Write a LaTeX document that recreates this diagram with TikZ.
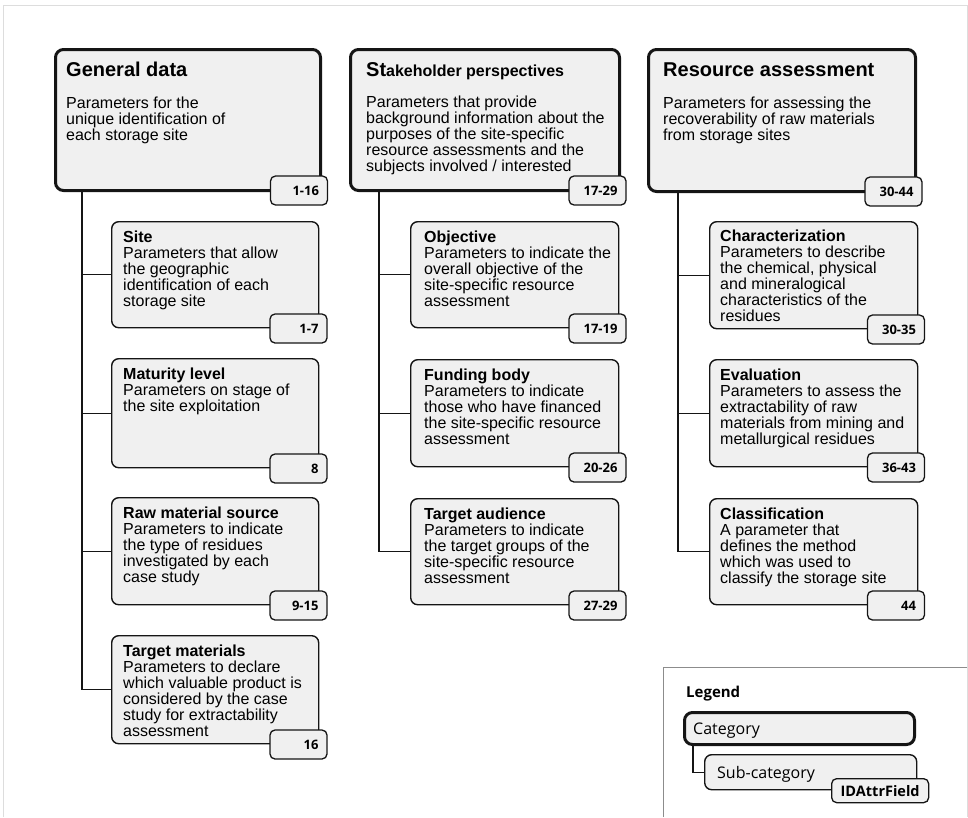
\documentclass[tikz,border=0pt]{standalone}
\usepackage{fontspec}
\setmainfont{Liberation Sans}
\newfontfamily\badgefont{Open Sans}
\usetikzlibrary{backgrounds}
\definecolor{boxfill}{HTML}{F0F0F0}
\definecolor{framegray}{HTML}{DDDDDD}
\definecolor{leggray}{HTML}{8C8C8C}
\definecolor{linecol}{HTML}{151515}
\newcommand\boxlines[1]{\parbox[t]{240pt}{\raggedright\fontsize{16}{16}\selectfont #1}}
\begin{document}
\begin{tikzpicture}[x=1pt,y=-1pt,
  catbox/.style={draw=linecol, line width=3pt, rounded corners=8pt, fill=boxfill, inner sep=0pt, anchor=north west},
  subbox/.style={draw=linecol, line width=1.4pt, rounded corners=7pt, fill=boxfill, inner sep=0pt, anchor=north west},
  badge/.style={draw=linecol, line width=1.3pt, rounded corners=5pt, fill=boxfill, minimum height=29pt, text width=40pt, inner xsep=8.5pt, inner ysep=0pt, align=right, font=\badgefont\bfseries\fontsize{13}{13}\selectfont, anchor=center},
  legbadge/.style={draw=linecol, line width=1.3pt, rounded corners=5pt, fill=boxfill, minimum height=24pt, minimum width=97pt, inner xsep=2.5pt, inner ysep=0pt, font=\badgefont\bfseries\fontsize{14.5}{14.5}\selectfont, anchor=north west, text depth=0pt},
  txt/.style={anchor=base west, inner sep=0pt},
  cattitle/.style={txt, font=\bfseries\fontsize{20}{20}\selectfont},
  legtxt/.style={txt, font=\badgefont\fontsize{16}{16}\selectfont},
  conn/.style={draw=linecol, line width=1.4pt},
]
\useasboundingbox (0,0) rectangle (968,817);
% outer frame and legend frame
\draw[framegray, line width=0.8pt] (3,817) -- (3,5) -- (967,5) -- (967,817);
\draw[leggray, line width=0.8pt] (663,817) -- (663,667) -- (967,667);

% ---------- General data column ----------
\node[catbox, minimum width=265pt, minimum height=141pt] (gd) at (54,48) {};
\node[cattitle] (gdt) at (66,76) {General data};
\node[txt] (gdx) at (66,108) {\boxlines{Parameters for the\\unique identification of\\each storage site}};
\node[badge] (gdb) at (299,190.5) {1-16};

\node[subbox, minimum width=207pt, minimum height=106pt] (site) at (111,221) {};
\node[txt] (sitet) at (123,242) {\boxlines{\textbf{Site}\\Parameters that allow\\the geographic\\identification of each\\storage site}};
\node[badge] (siteb) at (298.5,328.5) {1-7};

\node[subbox, minimum width=207pt, minimum height=109pt] (ml) at (111,358) {};
\node[txt] (mlt) at (123,379) {\boxlines{\textbf{Maturity level}\\Parameters on stage of\\the site exploitation}};
\node[badge] (mlb) at (298.5,468.5) {8};

\node[subbox, minimum width=207pt, minimum height=107pt] (rms) at (111,497) {};
\node[txt] (rmst) at (123,518) {\boxlines{\textbf{Raw material source}\\Parameters to indicate\\the type of residues\\investigated by each\\case study}};
\node[badge] (rmsb) at (298.5,605.5) {9-15};

\node[subbox, minimum width=207pt, minimum height=108pt] (tm) at (111,635) {};
\node[txt] (tmt) at (123,656) {\boxlines{\textbf{Target materials}\\Parameters to declare\\which valuable product is\\considered by the case\\study for extractability\\assessment}};
\node[badge] (tmb) at (298.5,744.5) {16};

% ---------- Stakeholder column ----------
\node[catbox, minimum width=269pt, minimum height=141pt] (sp) at (349,48) {};
\node[txt, font=\bfseries\fontsize{16}{16}\selectfont] (spt) at (366,76) {{\fontsize{20}{20}\selectfont St}akeholder perspectives};
\node[txt] (spx) at (366,107) {\boxlines{Parameters that provide\\background information about the\\purposes of the site-specific\\resource assessments and the\\subjects involved / interested}};
\node[badge] (spb) at (597.5,190.5) {17-29};

\node[subbox, minimum width=208pt, minimum height=106pt] (obj) at (410,221) {};
\node[txt] (objt) at (424,242) {\boxlines{\textbf{Objective}\\Parameters to indicate the\\overall objective of the\\site-specific resource\\assessment}};
\node[badge] (objb) at (597.5,328.5) {17-19};

\node[subbox, minimum width=208pt, minimum height=107pt] (fb) at (410,359) {};
\node[txt] (fbt) at (424,380) {\boxlines{\textbf{Funding body}\\Parameters to indicate\\those who have financed\\the site-specific resource\\assessment}};
\node[badge] (fbb) at (597.5,467.5) {20-26};

\node[subbox, minimum width=208pt, minimum height=106pt] (ta) at (410,498) {};
\node[txt] (tat) at (424,519) {\boxlines{\textbf{Target audience}\\Parameters to indicate\\the target groups of the\\site-specific resource\\assessment}};
\node[badge] (tab) at (597.5,605.5) {27-29};

% ---------- Resource assessment column ----------
\node[catbox, minimum width=267pt, minimum height=142pt] (ra) at (647,48) {};
\node[cattitle] (rat) at (663,76) {Resource assessment};
\node[txt] (rax) at (663,108) {\boxlines{Parameters for assessing the\\recoverability of raw materials\\from storage sites}};
\node[badge] (rab) at (893.5,191.5) {30-44};

\node[subbox, minimum width=208pt, minimum height=107pt] (chr) at (709,221) {};
\node[txt] (chrt) at (720,241) {\boxlines{\textbf{Characterization}\\Parameters to describe\\the chemical, physical\\and mineralogical\\characteristics of the\\residues}};
\node[badge] (chrb) at (896,329.5) {30-35};

\node[subbox, minimum width=208pt, minimum height=107pt] (ev) at (709,359) {};
\node[txt] (evt) at (720,380) {\boxlines{\textbf{Evaluation}\\Parameters to assess the\\extractability of raw\\materials from mining and\\metallurgical residues}};
\node[badge] (evb) at (896,467.5) {36-43};

\node[subbox, minimum width=208pt, minimum height=106pt] (cl) at (709,498) {};
\node[txt] (clt) at (720,519) {\boxlines{\textbf{Classification}\\A parameter that\\defines the method\\which was used to\\classify the storage site}};
\node[badge] (clb) at (896,605.5) {44};

% ---------- Legend ----------
\node[txt, font=\badgefont\bfseries\fontsize{15}{15}\selectfont] (legt) at (686,697) {Legend};
\node[catbox, minimum width=230pt, minimum height=32pt] (lcat) at (683,711) {};
\node[legtxt] (lcatt) at (693,734) {Category};
\node[subbox, minimum width=212pt, minimum height=35pt] (lsub) at (704,754) {};
\node[legtxt] (lsubt) at (717,778) {Sub-category};
\node[legbadge] (lbad) at (831,778) {IDAttrField};

% ---------- connectors ----------
\coordinate (gdtop) at (82,189);
\coordinate (sptop) at (379,189);
\coordinate (ratop) at (678,190);
\coordinate (legtop) at (693,743);
\begin{scope}[on background layer]
\draw[conn] (gdtop) |- (tm.west);
\draw[conn] (gdtop |- site.west) -- (site.west);
\draw[conn] (gdtop |- ml.west) -- (ml.west);
\draw[conn] (gdtop |- rms.west) -- (rms.west);
\draw[conn] (sptop) |- (ta.west);
\draw[conn] (sptop |- obj.west) -- (obj.west);
\draw[conn] (sptop |- fb.west) -- (fb.west);
\draw[conn] (ratop) |- (cl.west);
\draw[conn] (ratop |- chr.west) -- (chr.west);
\draw[conn] (ratop |- ev.west) -- (ev.west);
\draw[conn] (legtop) |- (lsub.west);
\end{scope}
\end{tikzpicture}
\end{document}
